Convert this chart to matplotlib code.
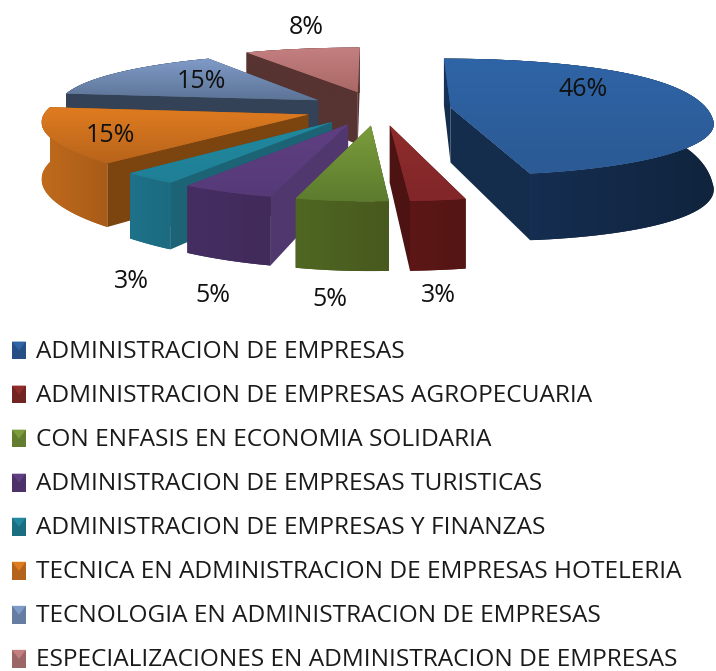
import numpy as np
import matplotlib
matplotlib.use("Agg")
import matplotlib.pyplot as plt
from matplotlib.colors import to_rgb
from matplotlib.legend_handler import HandlerPatch
from matplotlib.patches import Patch, Polygon

categories = ["ADMINISTRACION DE EMPRESAS",
              "ADMINISTRACION DE EMPRESAS AGROPECUARIA",
              "CON ENFASIS EN ECONOMIA SOLIDARIA",
              "ADMINISTRACION DE EMPRESAS TURISTICAS",
              "ADMINISTRACION DE EMPRESAS Y FINANZAS",
              "TECNICA EN ADMINISTRACION DE EMPRESAS HOTELERIA",
              "TECNOLOGIA EN ADMINISTRACION DE EMPRESAS",
              "ESPECIALIZACIONES EN ADMINISTRACION DE EMPRESAS"]
values = [46, 3, 5, 5, 3, 15, 15, 8]
explode = [0.28, 0.28, 0.28, 0.28, 0.28, 0.28, 0.28, 0.32]

top_hi = ["#2f64a6", "#8e2d2b", "#7b9c3c", "#5f3f82", "#21899f", "#e07c20", "#7f9bc8", "#c47f80"]
top_lo = ["#2b5a94", "#82262a", "#5d7c2e", "#563a78", "#1f7f96", "#b8641b", "#5d7496", "#a96866"]
outer_hi = ["#17325a", "#5c1716", "#4f6722", "#452e62", "#1e7289", "#c06a1c", "#344257", "#573331"]
outer_lo = ["#10243d", "#541514", "#48591e", "#412b5a", "#1c6b80", "#a85c18", "#344257", "#573331"]
radial = ["#152d4c", "#4d1312", "#4b6020", "#50386f", "#1b6375", "#7c4510", "#344257", "#573331"]

label_xy = [(583, 90), (438, 296), (330, 300), (213, 296), (131, 281), (110, 136), (201, 82), (306, 27)]

# fake perspective for the 3d look
cx, cy = 378, 109
rx, ry = 262, 57
persp_x = 0.1
persp_y = 0.165
depth = 55
start_angle = 90
draw_order = [7, 6, 5, 4, 3, 1, 2, 0]


def project(x, y, low=False):
    sx = 1 / (1 + persp_x * y)
    sy = 1 / (1 + persp_y * y)
    px = cx + rx * x * sx
    py = cy - ry * y * sy
    # the right side of the big slice sags a little in the original
    sag = max(x, 0) ** 2 * np.clip(1 - y, 0, 1) ** 2
    py = py + 6 * sag
    if low:
        py = py + depth * sy + 6 * sag
    return px, py


def grad_poly(ax, pts, c1, c2, z, vertical=True):
    pts = np.array(pts)
    poly = Polygon(pts, closed=True, facecolor=c2, edgecolor="none", zorder=z)
    ax.add_patch(poly)
    g = np.linspace(to_rgb(c1), to_rgb(c2), 64)
    g = g[:, None, :] if vertical else g[None, :, :]
    ext = [pts[:, 0].min(), pts[:, 0].max(), pts[:, 1].max(), pts[:, 1].min()]
    im = ax.imshow(g, extent=ext, aspect="auto", zorder=z, interpolation="bilinear")
    im.set_clip_path(poly)


class CubeHandler(HandlerPatch):
    def create_artists(self, legend, orig, xd, yd, w, h, fs, trans):
        c = orig.get_facecolor()
        dark = tuple(v * 0.8 for v in c[:3])
        sq = Polygon([(0, -1), (w, -1), (w, h + 1), (0, h + 1)], facecolor=dark, edgecolor="none", transform=trans)
        tri = Polygon([(0, h + 1), (w, h + 1), (w / 2, h / 2)], facecolor=c, edgecolor="none", transform=trans)
        return [sq, tri]


plt.rcParams["font.family"] = ["Open Sans", "DejaVu Sans"]
fig = plt.figure(figsize=(7.16, 6.71), dpi=100)
ax = fig.add_axes([0, 0, 1, 1])
ax.set_xlim(0, 716)
ax.set_ylim(671, 0)
ax.axis("off")

# slice angles from the values, clockwise
stops = start_angle - 3.6 * np.cumsum([0] + values)

for n, i in enumerate(draw_order):
    a1, a2 = np.radians(stops[i]), np.radians(stops[i + 1])
    mid = (a1 + a2) / 2
    ox = explode[i] * np.cos(mid)
    oy = explode[i] * np.sin(mid)
    t = np.linspace(a1, a2, 80)
    arc_x = ox + np.cos(t)
    arc_y = oy + np.sin(t)
    top_arc = [project(x, y) for x, y in zip(arc_x, arc_y)]
    low_arc = [project(x, y, True) for x, y in zip(arc_x, arc_y)]
    tip = project(ox, oy)
    tip_low = project(ox, oy, True)
    z = 2 + n * 0.1
    for end, low_end in [(top_arc[0], low_arc[0]), (top_arc[-1], low_arc[-1])]:
        ax.add_patch(Polygon([tip, end, low_end, tip_low], facecolor=radial[i], edgecolor="none", zorder=z))
    wall = top_arc + low_arc[::-1]
    grad_poly(ax, wall, outer_hi[i], outer_lo[i], z + 0.01, vertical=False)
    grad_poly(ax, [tip] + top_arc, top_hi[i], top_lo[i], z + 0.02)

for v, (x, y) in zip(values, label_xy):
    ax.text(x, y, f"{v}%", ha="center", va="center", fontsize=18, color="#111111", zorder=10)

handles = [Patch(facecolor=c, label=lab) for c, lab in zip(top_hi, categories)]
ax.legend(handles=handles, handler_map={Patch: CubeHandler()}, frameon=False,
          loc="upper left", bbox_to_anchor=(12 / 716, 1 - 340 / 671), fontsize=17.6,
          handlelength=0.57, handleheight=0.57, handletextpad=0.41,
          labelspacing=0.82, borderaxespad=0, borderpad=0, labelcolor="#1a1a1a")

fig.savefig("out.png", dpi=100)
